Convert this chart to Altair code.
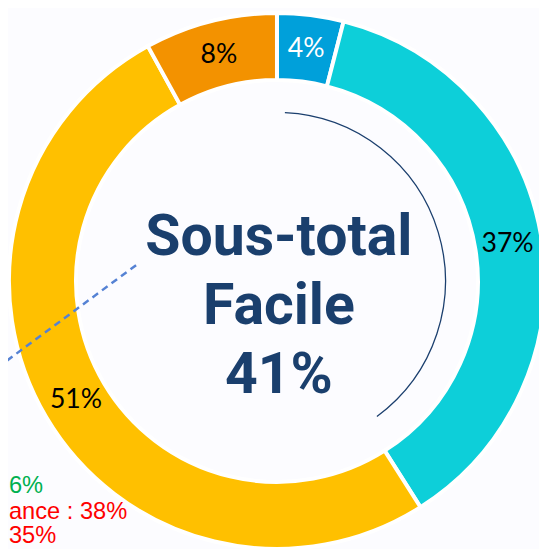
import math
import altair as alt
import pandas as pd

# Donut segments (clockwise from 12 o'clock)
categories = ["Très facile", "Plutôt facile", "Plutôt difficile", "Très difficile"]
shares = [4, 37, 51, 8]
seg_colors = ["#00A0DA", "#0DCFD9", "#FFC000", "#F39200"]
share_labels = ["4%", "37%", "51%", "8%"]
label_colors = ["#FFFFFF", "#000000", "#000000", "#000000"]

# Centre title
title_lines = ["Sous-total", "Facile", "41%"]
title_y = [247, 317, 387]

# Cropped side annotations (visible parts only)
side_texts = ["6%", "ance : 38%", "35%"]
side_colors = ["#00B050", "#FF0000", "#FF0000"]
side_x = [1, 1, 1]
side_y = [488, 515, 539]

# Leader line (dashed)
leader_x = [130]
leader_y = [257]
leader_x2 = [-8]
leader_y2 = [359]

W, H = 539, 541
CX, CY = 273, 273

seg_df = pd.DataFrame({
    "cat": categories,
    "share": shares,
    "order": list(range(len(categories))),
    "label": share_labels,
    "lcolor": label_colors,
})

theta = alt.Theta("share:Q", stack=True)
order = alt.Order("order:Q")

arcs = alt.Chart(seg_df).mark_arc(
    radius=272, radius2=204, stroke="#FFFFFF", strokeWidth=4, x=CX, y=CY
).encode(
    theta=theta,
    order=order,
    color=alt.Color("cat:N", scale=alt.Scale(domain=categories, range=seg_colors), legend=None),
)

labels = alt.Chart(seg_df).mark_text(
    radius=237, x=CX, y=CY, font="Lato", fontSize=27, baseline="middle", align="center"
).encode(
    theta=theta,
    order=order,
    text="label:N",
    color=alt.Color("lcolor:N", scale=None),
)

sub_arc = alt.Chart(pd.DataFrame({"a": [1]})).mark_arc(
    radius=171, radius2=171, theta=math.radians(2.7), theta2=math.radians(143.6),
    stroke="#1B3F6E", strokeWidth=1.3, fillOpacity=0, x=CX, y=CY
).encode(opacity=alt.value(1))

xs = alt.Scale(domain=[0, W])
ys = alt.Scale(domain=[0, H], reverse=True)

title_df = pd.DataFrame({"t": title_lines, "y": title_y, "x": [275] * 3})
title = alt.Chart(title_df).mark_text(
    font="Roboto", fontWeight="bold", fontSize=58, color="#1A3F6D",
    align="center", baseline="alphabetic"
).encode(
    x=alt.X("x:Q", scale=xs, axis=None),
    y=alt.Y("y:Q", scale=ys, axis=None),
    text="t:N",
)

side_df = pd.DataFrame({"t": side_texts, "c": side_colors, "x": side_x, "y": side_y})
side = alt.Chart(side_df).mark_text(
    font="Liberation Sans", fontSize=24, align="left", baseline="alphabetic"
).encode(
    x=alt.X("x:Q", scale=xs, axis=None),
    y=alt.Y("y:Q", scale=ys, axis=None),
    text="t:N",
    color=alt.Color("c:N", scale=None),
)

lead_df = pd.DataFrame({"x": leader_x, "y": leader_y, "x2": leader_x2, "y2": leader_y2})
leader = alt.Chart(lead_df).mark_rule(
    color="#5582D4", strokeWidth=2.5, strokeDash=[7, 5]
).encode(
    x=alt.X("x:Q", scale=xs, axis=None),
    y=alt.Y("y:Q", scale=ys, axis=None),
    x2="x2:Q",
    y2="y2:Q",
)

chart = alt.layer(arcs, labels, sub_arc, leader, title, side).resolve_scale(
    theta="shared", color="independent"
).properties(
    width=W, height=H, padding=0, autosize=alt.AutoSizeParams(type="none"),
    background="#FCFCFF",
).configure_view(strokeWidth=0)

chart.save("out.html", embed_options={"renderer": "svg", "actions": False})
